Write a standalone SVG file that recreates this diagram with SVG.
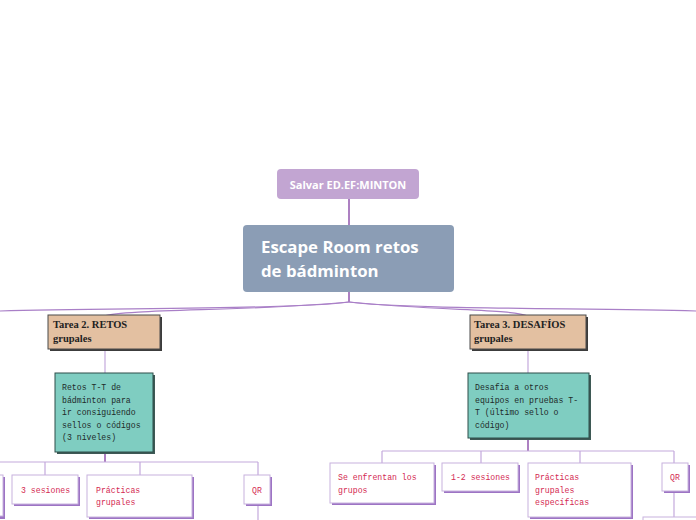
<svg xmlns="http://www.w3.org/2000/svg" width="696" height="520" viewBox="0 0 696 520">
<style>
.conn{fill:none;stroke:#a97fc7;stroke-width:1.2}
.dark{fill:none;stroke:#8a4aa8;stroke-width:1.4}
.light{fill:none;stroke:#c4a9dc;stroke-width:1.2}
.tarea{fill:#e3c0a1;stroke:#4a4a4a;stroke-width:1}
.tshadow{fill:#3c3c3c}
.ttext{font-family:"Liberation Serif",serif;font-weight:bold;font-size:10.5px;fill:#222}
.green{fill:#7fcdc1;stroke:#2e4f4a;stroke-width:1}
.gshadow{fill:#3e5955}
.gtext{font-family:"Liberation Mono",monospace;font-size:8.2px;fill:#1e2b2a}
.child{fill:#fff;stroke:#c8b2de;stroke-width:1}
.cshadow{fill:#9d74c4}
.ctext{font-family:"Liberation Mono",monospace;font-size:8.2px;fill:#d42a52}
</style>
<rect width="696" height="520" fill="#fff"/>
<g id="connectors">
<path class="dark" d="M349,199 V225"/>
<path class="dark" d="M349,292 V302"/>
<path class="conn" d="M349,302 C300,309 120,308 0,311"/>
<path class="conn" d="M349,302 C260,311 122,309 105,316"/>
<path class="conn" d="M349,302 C400,309 580,308 696,311"/>
<path class="conn" d="M349,302 C440,311 512,309 528,316"/>
<path class="light" d="M105,349 V373"/>
<path class="light" d="M528,349 V373"/>
<path class="dark" d="M105,452 V462"/>
<path class="light" d="M0,462 H258 M45,462 V475 M140,462 V475 M258,462 V475"/>
<path class="light" d="M258,504 V520"/>
<path class="dark" d="M528,439 V451"/>
<path class="light" d="M382,451 H674 M382,451 V463 M481,451 V463 M580,451 V463 M674,451 V463"/>
<path class="light" d="M674,491 V517"/>
</g>
<g id="salvar">
<rect x="277" y="169" width="142" height="30" rx="4" fill="#c2a5d2"/>
<text x="348" y="189" text-anchor="middle" font-family="'Open Sans',sans-serif" font-weight="bold" font-size="11" fill="#fff">Salvar ED.EF:MINTON</text>
</g>
<g id="central">
<rect x="243" y="225" width="211" height="67" rx="4" fill="#8b9db5"/>
<text font-family="'Open Sans',sans-serif" font-weight="bold" font-size="16.8" fill="#fff"><tspan x="261" y="253">Escape Room retos</tspan><tspan x="261" y="277">de bádminton</tspan></text>
</g>
<g id="tarea2">
<rect class="tshadow" x="50" y="317" width="112" height="34"/>
<rect class="tarea" x="48" y="315" width="112" height="34"/>
<text class="ttext"><tspan x="53" y="328">Tarea 2. RETOS</tspan><tspan x="53" y="342">grupales</tspan></text>
</g>
<g id="tarea3">
<rect class="tshadow" x="472" y="317" width="116" height="34"/>
<rect class="tarea" x="470" y="315" width="116" height="34"/>
<text class="ttext"><tspan x="474" y="328">Tarea 3. DESAFÍOS</tspan><tspan x="474" y="342">grupales</tspan></text>
</g>
<g id="retos">
<rect class="gshadow" x="57" y="375" width="98" height="79"/>
<rect class="green" x="55" y="373" width="98" height="79"/>
<text class="gtext"><tspan x="62" y="390">Retos T-T de</tspan><tspan x="62" y="403">bádminton para</tspan><tspan x="62" y="415">ir consiguiendo</tspan><tspan x="62" y="428">sellos o códigos</tspan><tspan x="62" y="440">(3 niveles)</tspan></text>
</g>
<g id="desafia">
<rect class="gshadow" x="470" y="375" width="121" height="65"/>
<rect class="green" x="468" y="373" width="121" height="65"/>
<text class="gtext"><tspan x="475" y="390">Desafía a otros</tspan><tspan x="475" y="403">equipos en pruebas T-</tspan><tspan x="475" y="415">T (último sello o</tspan><tspan x="475" y="428">código)</tspan></text>
</g>
<g id="c-left-partial">
<rect class="cshadow" x="-40" y="477" width="45" height="42"/>
<rect class="child" x="-40" y="475" width="43" height="41"/>
</g>
<g id="c-3sesiones">
<rect class="cshadow" x="14" y="477" width="66" height="29"/>
<rect class="child" x="12" y="475" width="66" height="29"/>
<text class="ctext" x="21" y="493">3 sesiones</text>
</g>
<g id="c-practicas1">
<rect class="cshadow" x="89" y="477" width="105" height="42"/>
<rect class="child" x="87" y="475" width="105" height="42"/>
<text class="ctext"><tspan x="96" y="493">Prácticas</tspan><tspan x="96" y="505">grupales</tspan></text>
</g>
<g id="c-qr1">
<rect class="cshadow" x="246" y="477" width="26" height="29"/>
<rect class="child" x="244" y="475" width="26" height="29"/>
<text class="ctext" x="257" y="493" text-anchor="middle">QR</text>
</g>
<g id="c-enfrentan">
<rect class="cshadow" x="332" y="465" width="104" height="40"/>
<rect class="child" x="330" y="463" width="104" height="40"/>
<text class="ctext"><tspan x="338" y="480">Se enfrentan los</tspan><tspan x="338" y="493">grupos</tspan></text>
</g>
<g id="c-12sesiones">
<rect class="cshadow" x="444" y="465" width="76" height="28"/>
<rect class="child" x="442" y="463" width="76" height="28"/>
<text class="ctext" x="451" y="480">1-2 sesiones</text>
</g>
<g id="c-practicas2">
<rect class="cshadow" x="530" y="465" width="103" height="54"/>
<rect class="child" x="528" y="463" width="103" height="54"/>
<text class="ctext"><tspan x="535" y="480">Prácticas</tspan><tspan x="535" y="493">grupales</tspan><tspan x="535" y="505">específicas</tspan></text>
</g>
<g id="c-qr2">
<rect class="cshadow" x="664" y="465" width="26" height="28"/>
<rect class="child" x="662" y="463" width="26" height="28"/>
<text class="ctext" x="675" y="480" text-anchor="middle">QR</text>
</g>
<g id="c-right-partial">
<rect class="child" x="643" y="517" width="80" height="30"/>
</g>
</svg>
